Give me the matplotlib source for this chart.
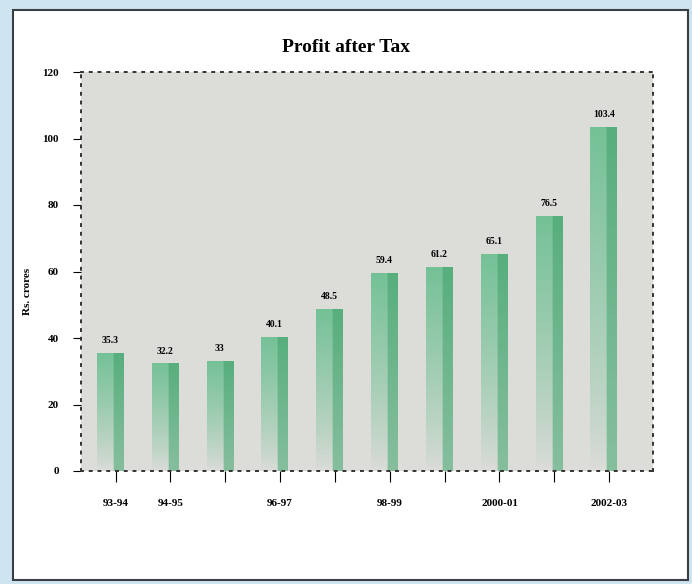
import numpy as np
import matplotlib
matplotlib.use("Agg")
import matplotlib.pyplot as plt
from matplotlib.patches import Rectangle

# data
years = ["93-94", "94-95", "95-96", "96-97", "97-98", "98-99",
         "99-00", "2000-01", "2001-02", "2002-03"]
shown = ["93-94", "94-95", "", "96-97", "", "98-99", "", "2000-01", "", "2002-03"]
profit = [35.3, 32.2, 33, 40.1, 48.5, 59.4, 61.2, 65.1, 76.5, 103.4]
labels = ["35.3", "32.2", "33", "40.1", "48.5", "59.4", "61.2", "65.1", "76.5", "103.4"]

plt.rcParams['font.family'] = ['Liberation Serif', 'DejaVu Serif']

fig = plt.figure(figsize=(6.92, 5.84), dpi=100)
fig.patch.set_facecolor('#cfe4f1')
panel = Rectangle((13/692, 4/584), 675/692, 570/584, transform=fig.transFigure,
                  facecolor='white', edgecolor='#3a3f44', linewidth=1.5, zorder=-10)
fig.add_artist(panel)

ax = fig.add_axes([81/692, 113/584, 572/692, 399/584])
ax.set_facecolor('#dcdcd9')

# gradient image for one bar: light left part fading downwards, darker right strip
nr, nc = 60, 26
img = np.zeros((nr, nc, 4))
g = np.array([0.36, 0.72, 0.52])
fade = np.linspace(1.0, 0.0, nr)[:, None]
for j in range(nc):
    if j < 16:
        img[:, j, :3] = g + (1 - g) * 0.12
        img[:, j, 3] = fade[:, 0] ** 0.8 * 0.95
    else:
        img[:, j, :3] = g * 0.95
        img[:, j, 3] = 0.65 + 0.35 * fade[:, 0]

x = np.arange(len(years))
w = 0.48
for xi, h, lab in zip(x, profit, labels):
    ax.imshow(img, extent=(xi - w/2, xi + w/2, 0, h), aspect='auto',
              interpolation='bilinear', zorder=2)
    ax.text(xi, h + 2.5, lab, ha='center', va='bottom', fontsize=7,
            fontweight='bold', zorder=3)

ax.set_xlim(-0.53, 9.9)
ax.set_ylim(0, 120)
ax.set_yticks(np.arange(0, 121, 20))
ax.set_xticks(x + 0.1)
ax.set_xticklabels(shown, fontsize=8, fontweight='bold')
for t in ax.get_yticklabels():
    t.set_fontweight('bold')
ax.tick_params(axis='x', length=8, pad=12, direction='out')
ax.tick_params(axis='y', length=6, pad=10, labelsize=8, direction='out')
for s in ax.spines.values():
    s.set_linestyle((0, (1, 3.5)))
    s.set_linewidth(1.4)
    s.set_color('#333333')

ax.set_ylabel("Rs. crores", fontsize=8, fontweight='bold')
ax.yaxis.set_label_coords(-0.085, 0.45)
fig.text(0.5, 0.918, "Profit after Tax", ha='center', va='center',
         fontsize=14, fontweight='bold')

fig.savefig("out.png", dpi=100, facecolor=fig.get_facecolor())
